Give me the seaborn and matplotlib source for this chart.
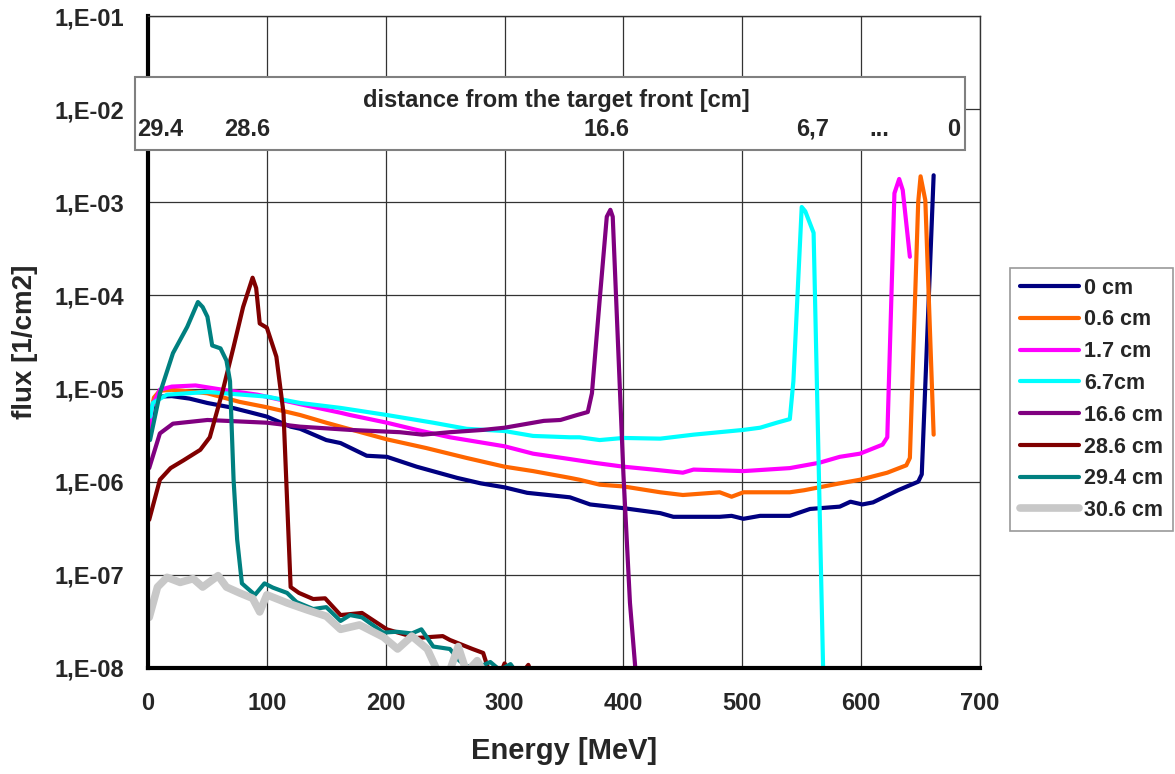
import numpy as np
import pandas as pd
import matplotlib
matplotlib.use("Agg")
import matplotlib.pyplot as plt
import seaborn as sns
from matplotlib.ticker import FixedLocator, FuncFormatter, LogLocator, MultipleLocator, NullFormatter
from matplotlib.patches import Rectangle

# ---------------- data ----------------
labels = ["0 cm", "0.6 cm", "1.7 cm", "6.7cm", "16.6 cm", "28.6 cm", "29.4 cm", "30.6 cm"]
colors = ["#000080", "#FF6600", "#FF00FF", "#00FFFF", "#800080", "#800000", "#008080", "#C8C8C8"]

e_0 = [2, 5, 10, 20, 35, 50, 69, 85, 100, 120, 128, 150, 162, 184, 201, 226, 260, 280, 300, 319, 355,
       372, 400, 431, 442, 481, 491, 501, 515, 540, 557, 582, 591, 601, 610, 631, 648, 651, 661]
f_0 = [4e-6, 7.5e-6, 8.2e-6, 8.3e-6, 7.8e-6, 7.0e-6, 6.3e-6, 5.6e-6, 5.0e-6, 3.9e-6, 3.7e-6, 2.8e-6, 2.6e-6,
       1.9e-6, 1.85e-6, 1.45e-6, 1.1e-6, 9.6e-7, 8.7e-7, 7.6e-7, 6.8e-7, 5.7e-7, 5.2e-7, 4.6e-7, 4.2e-7,
       4.2e-7, 4.3e-7, 4.0e-7, 4.3e-7, 4.3e-7, 5.1e-7, 5.4e-7, 6.1e-7, 5.7e-7, 6.0e-7, 8.1e-7, 1.0e-6,
       1.2e-6, 1.95e-3]

e_06 = [2, 5, 10, 20, 35, 50, 77, 100, 120, 128, 150, 162, 201, 234, 268, 300, 324, 355, 363, 380, 400,
        431, 450, 481, 491, 501, 515, 540, 552, 582, 599, 622, 638, 641, 648, 650, 654, 661]
f_06 = [5e-6, 8e-6, 9.5e-6, 9.7e-6, 9.3e-6, 8.9e-6, 7.2e-6, 6.3e-6, 5.5e-6, 5.2e-6, 4.3e-6, 3.9e-6, 2.85e-6,
        2.3e-6, 1.8e-6, 1.45e-6, 1.3e-6, 1.1e-6, 1.05e-6, 9.3e-7, 8.9e-7, 7.7e-7, 7.2e-7, 7.7e-7, 6.9e-7,
        7.7e-7, 7.7e-7, 7.7e-7, 8.1e-7, 9.6e-7, 1.05e-6, 1.25e-6, 1.5e-6, 1.8e-6, 1.0e-3, 1.9e-3, 1.05e-3,
        3.2e-6]

e_17 = [1, 3, 10, 20, 40, 63, 92, 128, 162, 170, 201, 226, 254, 300, 324, 355, 375, 400, 425, 450, 459,
        501, 540, 565, 582, 599, 618, 622, 628, 632, 635, 641]
f_17 = [3e-6, 6.3e-6, 9.7e-6, 1.05e-5, 1.08e-5, 9.7e-6, 8.6e-6, 6.8e-6, 5.5e-6, 5.2e-6, 4.3e-6, 3.6e-6,
        3.0e-6, 2.4e-6, 2.0e-6, 1.75e-6, 1.6e-6, 1.45e-6, 1.35e-6, 1.25e-6, 1.35e-6, 1.3e-6, 1.4e-6,
        1.6e-6, 1.85e-6, 2.0e-6, 2.5e-6, 3e-6, 1.25e-3, 1.78e-3, 1.35e-3, 2.6e-4]

e_67 = [2, 4, 16, 50, 100, 128, 162, 201, 240, 268, 300, 324, 355, 363, 380, 400, 431, 459, 501, 515,
        529, 540, 543, 550, 553, 560, 568, 569]
f_67 = [5e-6, 7e-6, 8.6e-6, 9.2e-6, 8.2e-6, 7e-6, 6.2e-6, 5.2e-6, 4.3e-6, 3.7e-6, 3.5e-6, 3.1e-6, 3.0e-6,
        3.0e-6, 2.8e-6, 2.95e-6, 2.9e-6, 3.2e-6, 3.6e-6, 3.8e-6, 4.3e-6, 4.7e-6, 1.2e-5, 8.9e-4, 8.0e-4,
        4.7e-4, 1e-8, 6e-9]

e_166 = [1, 10, 21, 50, 100, 128, 170, 212, 231, 254, 282, 300, 333, 347, 361, 370, 373.5, 380, 386, 389,
         391, 400, 405.5, 410, 412]
f_166 = [1.4e-6, 3.3e-6, 4.2e-6, 4.6e-6, 4.3e-6, 3.9e-6, 3.6e-6, 3.4e-6, 3.2e-6, 3.4e-6, 3.6e-6, 3.8e-6,
         4.5e-6, 4.6e-6, 5.2e-6, 5.6e-6, 8.9e-6, 8.9e-5, 7e-4, 8.3e-4, 7e-4, 1.2e-6, 5e-8, 1e-8, 7e-9]

e_286 = [1, 10, 19, 30, 44, 52, 63, 72, 80, 88, 91, 94, 100, 108, 114, 120, 127, 139, 149, 162, 180, 201,
         226, 248, 254, 273, 282, 286, 290, 297, 300, 304, 312, 320, 324]
f_286 = [3.9e-7, 1.05e-6, 1.4e-6, 1.7e-6, 2.2e-6, 3e-6, 9.6e-6, 2.8e-5, 7.5e-5, 1.55e-4, 1.2e-4, 5e-5,
         4.5e-5, 2.2e-5, 5.5e-6, 7.4e-8, 6.4e-8, 5.5e-8, 5.6e-8, 3.7e-8, 3.9e-8, 2.6e-8, 2.1e-8, 2.2e-8,
         2.0e-8, 1.6e-8, 1.45e-8, 1e-8, 8e-9, 9e-9, 1.12e-8, 9e-9, 8e-9, 1.08e-8, 8e-9]

e_294 = [1.7, 10, 21, 33, 42, 46, 50, 54, 61, 66, 69, 72, 75, 79, 83, 90, 98, 105, 117, 125, 139, 150,
         162, 170, 180, 198, 209, 222, 230, 240, 254, 262, 268, 279, 288, 296, 305, 310]
f_294 = [2.8e-6, 8.9e-6, 2.4e-5, 4.6e-5, 8.5e-5, 7.5e-5, 5.9e-5, 2.9e-5, 2.7e-5, 2.0e-5, 1.2e-5, 1.05e-6,
         2.4e-7, 8.1e-8, 7.3e-8, 6.1e-8, 8.1e-8, 7.3e-8, 6.4e-8, 5.1e-8, 4.3e-8, 4.5e-8, 3.2e-8, 3.7e-8,
         3.5e-8, 2.4e-8, 2.45e-8, 2.35e-8, 2.6e-8, 1.7e-8, 1.6e-8, 1.2e-8, 1.05e-8, 1.03e-8, 1.16e-8,
         9.5e-9, 1.1e-8, 9e-9]

e_306 = [1, 8, 16, 27, 38, 46, 59, 66, 77, 88, 94, 100, 117, 134, 150, 162, 178, 198, 210, 222, 235, 244,
         252, 261, 268, 277, 285]
f_306 = [3.5e-8, 7.4e-8, 9.4e-8, 8.3e-8, 9.1e-8, 7.4e-8, 9.8e-8, 7.4e-8, 6.4e-8, 5.6e-8, 4e-8, 6.1e-8,
         5e-8, 4.2e-8, 3.6e-8, 2.6e-8, 2.9e-8, 2.15e-8, 1.6e-8, 2.2e-8, 1.6e-8, 9e-9, 8e-9, 1.7e-8, 9e-9,
         1.2e-8, 8e-9]

energies = [e_0, e_06, e_17, e_67, e_166, e_286, e_294, e_306]
fluxes = [f_0, f_06, f_17, f_67, f_166, f_286, f_294, f_306]

x_ticks = [0, 100, 200, 300, 400, 500, 600, 700]
y_ticks = [1e-8, 1e-7, 1e-6, 1e-5, 1e-4, 1e-3, 1e-2, 1e-1]

inset_title = "distance from the target front [cm]"
inset_labels = ["29.4", "28.6", "16.6", "6,7", "...", "0"]
inset_label_px = [160, 247, 607, 813, 879, 954]

# ---------------- style ----------------
sns.set_style("white")
plt.rcParams["font.family"] = ["Liberation Sans", "DejaVu Sans"]
plt.rcParams["font.weight"] = "bold"
plt.rcParams["axes.labelweight"] = "bold"

W, H = 1175, 774
fig = plt.figure(figsize=(W / 100, H / 100), dpi=100)
ax = fig.add_axes([148 / W, 1 - 668 / H, (980 - 148) / W, (668 - 16) / H])

for lab, col, e, f in zip(labels, colors, energies, fluxes):
    df = pd.DataFrame({"E": e, "flux": f})
    lw = 5.5 if lab == "30.6 cm" else 3.0
    sns.lineplot(data=df, x="E", y="flux", color=col, lw=lw, ax=ax, label=lab,
                 sort=False, estimator=None)

ax.set_yscale("log")
ax.set_xlim(0, 700)
ax.set_ylim(1e-8, 1e-1)

ax.xaxis.set_major_locator(FixedLocator(x_ticks))
ax.xaxis.set_minor_locator(MultipleLocator(20))
ax.yaxis.set_major_locator(FixedLocator(y_ticks))
ax.yaxis.set_minor_locator(LogLocator(base=10, subs=np.arange(2, 10)))
ax.yaxis.set_minor_formatter(NullFormatter())
ax.yaxis.set_major_formatter(FuncFormatter(lambda v, p: "1,E-%02d" % int(round(-np.log10(v)))))

ax.grid(True, which="major", color="#333333", lw=0.9)
ax.set_axisbelow(True)

for side in ["left", "bottom"]:
    ax.spines[side].set_linewidth(3)
    ax.spines[side].set_color("black")
for side in ["top", "right"]:
    ax.spines[side].set_linewidth(1)
    ax.spines[side].set_color("#333333")

ax.tick_params(axis="y", which="major", direction="out", length=7, width=2, labelsize=17, pad=10)
ax.tick_params(axis="y", which="minor", direction="out", length=5, width=1.5)
ax.tick_params(axis="x", which="major", direction="inout", length=14, width=2.5, labelsize=17, pad=10)
ax.tick_params(axis="x", which="minor", direction="in", length=7, width=2)

ax.set_xlabel("Energy [MeV]", fontsize=21, fontweight="bold", labelpad=16)
ax.set_ylabel("flux [1/cm2]", fontsize=20, fontweight="bold", labelpad=12)

leg = ax.legend(loc="upper left", bbox_to_anchor=(1010 / W, 1 - 268 / H), bbox_transform=fig.transFigure,
                frameon=True, fancybox=False, edgecolor="#808080", fontsize=15.5,
                handlelength=2.75, labelspacing=0.5, borderpad=0.45, handletextpad=0.25,
                borderaxespad=0)
leg.get_frame().set_linewidth(1.2)
for t in leg.get_texts():
    t.set_fontweight("bold")

# inset box with distance labels
rect = Rectangle((135 / W, 1 - 150 / H), (965 - 135) / W, (150 - 77) / H, transform=fig.transFigure,
                 facecolor="white", edgecolor="#808080", lw=1.5, zorder=5)
fig.patches.append(rect)
fig.text(556 / W, 1 - 101 / H, inset_title, ha="center", va="center", fontsize=17,
         fontweight="bold", zorder=6)
for txt, px in zip(inset_labels, inset_label_px):
    fig.text(px / W, 1 - 129 / H, txt, ha="center", va="center", fontsize=17,
             fontweight="bold", zorder=6)

fig.savefig("out.png", dpi=100)
